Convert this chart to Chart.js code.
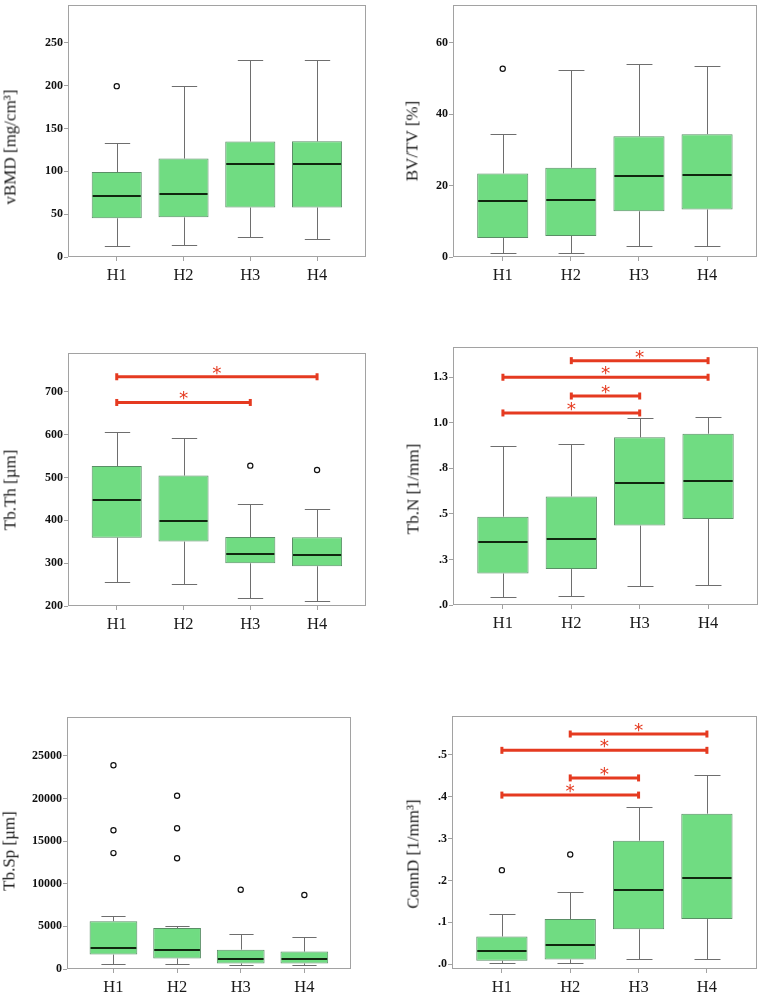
<!DOCTYPE html>
<html>
<head>
<meta charset="utf-8">
<script src="https://cdn.jsdelivr.net/npm/chart.js@4"></script>
<style>
html,body{margin:0;padding:0;background:#fff;overflow:hidden;width:762px;height:992px;position:relative;}
canvas{position:absolute;}
.yt{position:absolute;font-family:"Liberation Serif","Times New Roman",serif;font-size:17px;color:#1a1a1a;white-space:nowrap;line-height:17px;transform:translate(-50%,-50%) rotate(-90deg);}
</style>
</head>
<body>
<script>
// ---------- DATA ----------
const groups = ['H1', 'H2', 'H3', 'H4'];

// vBMD [mg/cm³]
const vbmdMin = [13, 14.2, 23, 21.4];
const vbmdQ1 = [45.2, 46.3, 57.8, 57.8];
const vbmdMed = [71.6, 73.5, 108.3, 108.3];
const vbmdQ3 = [99.2, 114.9, 134.8, 135.1];
const vbmdMax = [133.2, 200.2, 229.7, 229.7];
const vbmdOut = [[199.5], [], [], []];
const vbmdTicks = [0, 50, 100, 150, 200, 250];
const vbmdTickLabels = ['0', '50', '100', '150', '200', '250'];
const vbmdSig = [];

// BV/TV [%]
const bvtvMin = [1.0, 1.2, 3.1, 3.2];
const bvtvQ1 = [5.3, 5.9, 12.8, 13.3];
const bvtvMed = [15.6, 16.0, 22.7, 23.0];
const bvtvQ3 = [23.4, 25.0, 33.8, 34.4];
const bvtvMax = [34.3, 52.3, 54.0, 53.6];
const bvtvOut = [[52.7], [], [], []];
const bvtvTicks = [0, 20, 40, 60];
const bvtvTickLabels = ['0', '20', '40', '60'];
const bvtvSig = [];

// Tb.Th [µm]
const tbthMin = [256, 251, 218, 212];
const tbthQ1 = [359.5, 350.3, 299.7, 292.8];
const tbthMed = [447.7, 397.9, 321.9, 318.9];
const tbthQ3 = [526.7, 504.4, 361, 360.3];
const tbthMax = [605.7, 591.1, 438.5, 425.5];
const tbthOut = [[], [], [527.5], [517.5]];
const tbthTicks = [200, 300, 400, 500, 600, 700];
const tbthTickLabels = ['200', '300', '400', '500', '600', '700'];
const tbthSig = [[1, 4, 735], [1, 3, 675]];

// Tb.N [1/mm]
const tbnMin = [0.044, 0.049, 0.104, 0.111];
const tbnQ1 = [0.173, 0.197, 0.436, 0.472];
const tbnMed = [0.346, 0.364, 0.667, 0.678];
const tbnQ3 = [0.485, 0.596, 0.920, 0.940];
const tbnMax = [0.873, 0.886, 1.026, 1.033];
const tbnOut = [[], [], [], []];
const tbnTicks = [0, 0.25, 0.5, 0.75, 1.0, 1.25];
const tbnTickLabels = ['.0', '.3', '.5', '.8', '1.0', '1.3'];
const tbnSig = [[2, 4, 1.341], [1, 4, 1.25], [2, 3, 1.147], [1, 3, 1.054]];

// Tb.Sp [µm]
const tbspMin = [540, 540, 420, 420];
const tbspQ1 = [1690, 1230, 650, 650];
const tbspMed = [2460, 2270, 1150, 1150];
const tbspQ3 = [5610, 4800, 2270, 2040];
const tbspMax = [6180, 4990, 4110, 3730];
const tbspOut = [[23890, 16280, 13590], [20310, 16510, 12980], [9290], [8680]];
const tbspTicks = [0, 5000, 10000, 15000, 20000, 25000];
const tbspTickLabels = ['0', '5000', '10000', '15000', '20000', '25000'];
const tbspSig = [];

// ConnD [1/mm³]
const conndMin = [0.0016, 0.0016, 0.0118, 0.0126];
const conndQ1 = [0.0078, 0.011, 0.0832, 0.1075];
const conndMed = [0.0322, 0.0463, 0.1774, 0.2049];
const conndQ3 = [0.066, 0.1075, 0.295, 0.3595];
const conndMax = [0.119, 0.172, 0.376, 0.4529];
const conndOut = [[0.2245], [0.262], [], []];
const conndTicks = [0, 0.1, 0.2, 0.3, 0.4, 0.5];
const conndTickLabels = ['.0', '.1', '.2', '.3', '.4', '.5'];
const conndSig = [[2, 4, 0.550], [1, 4, 0.511], [2, 3, 0.445], [1, 3, 0.404]];

// ---------- STYLE ----------
const BOX_FILL = '#70dc82';
const BOX_EDGE = '#5a8e66';
const WHISK = '#6e6e6e';
const MEDIAN = '#10260f';
const FRAME = '#a2a2a2';
const RED = '#e53a20';
const CAP_W = 0.38;
const SERIF = '"Liberation Serif", "Times New Roman", serif';

const panels = [
  {min: vbmdMin, q1: vbmdQ1, med: vbmdMed, q3: vbmdQ3, max: vbmdMax, out: vbmdOut, ticks: vbmdTicks, labels: vbmdTickLabels, sig: vbmdSig,
   title: 'vBMD [mg/cm³]', ymin: 0, ymax: 294, left: 0, plotL: 68, plotR: 367, plotT: 1, plotB: 257, tx: 10, ty: 147},
  {min: bvtvMin, q1: bvtvQ1, med: bvtvMed, q3: bvtvQ3, max: bvtvMax, out: bvtvOut, ticks: bvtvTicks, labels: bvtvTickLabels, sig: bvtvSig,
   title: 'BV/TV [%]', ymin: 0, ymax: 70.5, left: 381, plotL: 453, plotR: 758, plotT: 1, plotB: 257, tx: 412, ty: 141},
  {min: tbthMin, q1: tbthQ1, med: tbthMed, q3: tbthQ3, max: tbthMax, out: tbthOut, ticks: tbthTicks, labels: tbthTickLabels, sig: tbthSig,
   title: 'Tb.Th [µm]', ymin: 200, ymax: 790, left: 0, plotL: 68, plotR: 367, plotT: 349, plotB: 606, tx: 10, ty: 490},
  {min: tbnMin, q1: tbnQ1, med: tbnMed, q3: tbnQ3, max: tbnMax, out: tbnOut, ticks: tbnTicks, labels: tbnTickLabels, sig: tbnSig,
   title: 'Tb.N [1/mm]', ymin: 0, ymax: 1.416, left: 381, plotL: 453, plotR: 758, plotT: 347, plotB: 605, tx: 413, ty: 489},
  {min: tbspMin, q1: tbspQ1, med: tbspMed, q3: tbspQ3, max: tbspMax, out: tbspOut, ticks: tbspTicks, labels: tbspTickLabels, sig: tbspSig,
   title: 'Tb.Sp [µm]', ymin: 0, ymax: 29530, left: 0, plotL: 67, plotR: 352, plotT: 713, plotB: 969, tx: 9, ty: 851},
  {min: conndMin, q1: conndQ1, med: conndMed, q3: conndQ3, max: conndMax, out: conndOut, ticks: conndTicks, labels: conndTickLabels, sig: conndSig,
   title: 'ConnD [1/mm³]', ymin: -0.0118, ymax: 0.5926, left: 381, plotL: 452, plotR: 761, plotT: 712, plotB: 969, tx: 413, ty: 854}
];

const boxPlugin = {
  id: 'boxParts',
  beforeDatasetsDraw(chart) {
    const o = chart.options.plugins.boxParts;
    const {ctx, chartArea: a, scales: {x, y}} = chart;
    ctx.save();
    ctx.strokeStyle = FRAME;
    ctx.lineWidth = 1;
    ctx.strokeRect(Math.round(a.left) + 0.5, Math.round(a.top) + 0.5,
      Math.round(a.right - a.left) - 1, Math.round(a.bottom - a.top) - 1);
    ctx.strokeStyle = WHISK;
    ctx.lineWidth = 1;
    const half = x.getPixelForValue(1 + CAP_W / 2) - x.getPixelForValue(1);
    o.min.forEach((mn, i) => {
      const cx = Math.round(x.getPixelForValue(i + 1)) + 0.5;
      const yMin = Math.round(y.getPixelForValue(mn)) + 0.5;
      const yQ1 = y.getPixelForValue(o.q1[i]);
      const yQ3 = y.getPixelForValue(o.q3[i]);
      const yMax = Math.round(y.getPixelForValue(o.max[i])) + 0.5;
      ctx.beginPath();
      ctx.moveTo(cx, yMin); ctx.lineTo(cx, yQ1);
      ctx.moveTo(cx, yQ3); ctx.lineTo(cx, yMax);
      ctx.moveTo(cx - half, yMin); ctx.lineTo(cx + half, yMin);
      ctx.moveTo(cx - half, yMax); ctx.lineTo(cx + half, yMax);
      ctx.stroke();
    });
    ctx.restore();
  },
  afterDatasetsDraw(chart) {
    const o = chart.options.plugins.boxParts;
    const {ctx, scales: {x, y}} = chart;
    ctx.save();
    // medians
    ctx.strokeStyle = MEDIAN;
    ctx.lineWidth = 2;
    chart.getDatasetMeta(0).data.forEach((bar, i) => {
      const p = bar.getProps(['x', 'width'], true);
      const yy = Math.round(y.getPixelForValue(o.med[i]));
      ctx.beginPath();
      ctx.moveTo(p.x - p.width / 2 + 1, yy);
      ctx.lineTo(p.x + p.width / 2 - 1, yy);
      ctx.stroke();
    });
    // significance bars
    if (o.sig.length) {
      ctx.strokeStyle = RED;
      ctx.fillStyle = RED;
      ctx.font = '100px "DejaVu Sans"';
      const m0 = ctx.measureText('*');
      const h0 = m0.actualBoundingBoxAscent + m0.actualBoundingBoxDescent;
      const fs = 100 * 8.5 / h0;
      o.sig.forEach(([g1, g2, v]) => {
        const x1 = x.getPixelForValue(g1), x2 = x.getPixelForValue(g2);
        const yy = y.getPixelForValue(v);
        ctx.lineWidth = 3;
        ctx.beginPath();
        ctx.moveTo(x1, yy); ctx.lineTo(x2, yy);
        ctx.stroke();
        ctx.fillRect(x1 - 1.5, yy - 3.5, 3, 7);
        ctx.fillRect(x2 - 1.5, yy - 3.5, 3, 7);
        ctx.font = fs.toFixed(1) + 'px "DejaVu Sans"';
        const m = ctx.measureText('*');
        const cy = yy - 6.5;
        ctx.textAlign = 'center';
        ctx.textBaseline = 'alphabetic';
        ctx.fillText('*', (x1 + x2) / 2, cy + (m.actualBoundingBoxAscent - m.actualBoundingBoxDescent) / 2);
      });
    }
    ctx.restore();
  }
};

panels.forEach((p) => {
  const top = Math.max(0, p.plotT - 1);
  const height = p.plotB + 45 - top;
  const width = Math.min(p.plotR + 4, 762) - p.left;
  const padTop = p.plotT - top;
  const padRight = width - (p.plotR - p.left);
  const yWidth = p.plotL - p.left;
  const xHeight = height - (p.plotB - top);

  const cv = document.createElement('canvas');
  cv.width = width; cv.height = height;
  cv.style.left = p.left + 'px'; cv.style.top = top + 'px';
  cv.style.width = width + 'px'; cv.style.height = height + 'px';
  document.body.appendChild(cv);

  const t = document.createElement('div');
  t.className = 'yt';
  t.textContent = p.title;
  t.style.left = p.tx + 'px';
  t.style.top = p.ty + 'px';
  document.body.appendChild(t);

  const outPts = [];
  p.out.forEach((arr, i) => arr.forEach(v => outPts.push({x: i + 1, y: v})));

  new Chart(cv, {
    type: 'bar',
    data: {
      datasets: [
        {
          type: 'bar',
          data: groups.map((g, i) => ({x: i + 1, y: [p.q1[i], p.q3[i]]})),
          backgroundColor: BOX_FILL,
          borderColor: BOX_EDGE,
          borderWidth: 1,
          borderSkipped: false,
          barPercentage: 0.75,
          categoryPercentage: 1
        },
        {
          type: 'scatter',
          data: outPts,
          pointStyle: 'circle',
          pointRadius: 2.6,
          pointBorderWidth: 1.2,
          borderColor: '#111',
          backgroundColor: '#fff',
          pointBackgroundColor: '#fff',
          pointBorderColor: '#111',
          showLine: false
        }
      ]
    },
    options: {
      responsive: false,
      animation: false,
      devicePixelRatio: 1,
      events: [],
      layout: {padding: {left: 0, top: padTop, right: padRight, bottom: 0}},
      plugins: {
        legend: {display: false},
        tooltip: {enabled: false},
        boxParts: {min: p.min, q1: p.q1, med: p.med, q3: p.q3, max: p.max, sig: p.sig}
      },
      scales: {
        x: {
          type: 'linear',
          min: 0.27,
          max: 4.73,
          offset: false,
          grid: {display: true, offset: false, drawOnChartArea: false, drawTicks: true, tickLength: 4, color: FRAME},
          border: {display: false},
          afterBuildTicks: (s) => { s.ticks = groups.map((g, i) => ({value: i + 1})); },
          afterFit: (s) => { s.height = xHeight; s.paddingLeft = 0; s.paddingRight = 0; },
          ticks: {
            callback: (v, i) => groups[i],
            font: {family: SERIF, size: 16.5},
            color: '#1a1a1a',
            padding: 5,
            maxRotation: 0,
            autoSkip: false
          }
        },
        y: {
          type: 'linear',
          min: p.ymin,
          max: p.ymax,
          grid: {display: true, drawOnChartArea: false, drawTicks: true, tickLength: 4, color: FRAME},
          border: {display: false},
          afterBuildTicks: (s) => { s.ticks = p.ticks.map(v => ({value: v})); },
          afterFit: (s) => { s.width = yWidth; s.paddingTop = 0; s.paddingBottom = 0; },
          ticks: {
            callback: (v, i) => p.labels[i],
            font: {family: SERIF, size: 12, weight: 'bold'},
            color: '#111',
            padding: 1,
            autoSkip: false
          }
        }
      }
    },
    plugins: [boxPlugin]
  });
});
</script>
</body>
</html>
